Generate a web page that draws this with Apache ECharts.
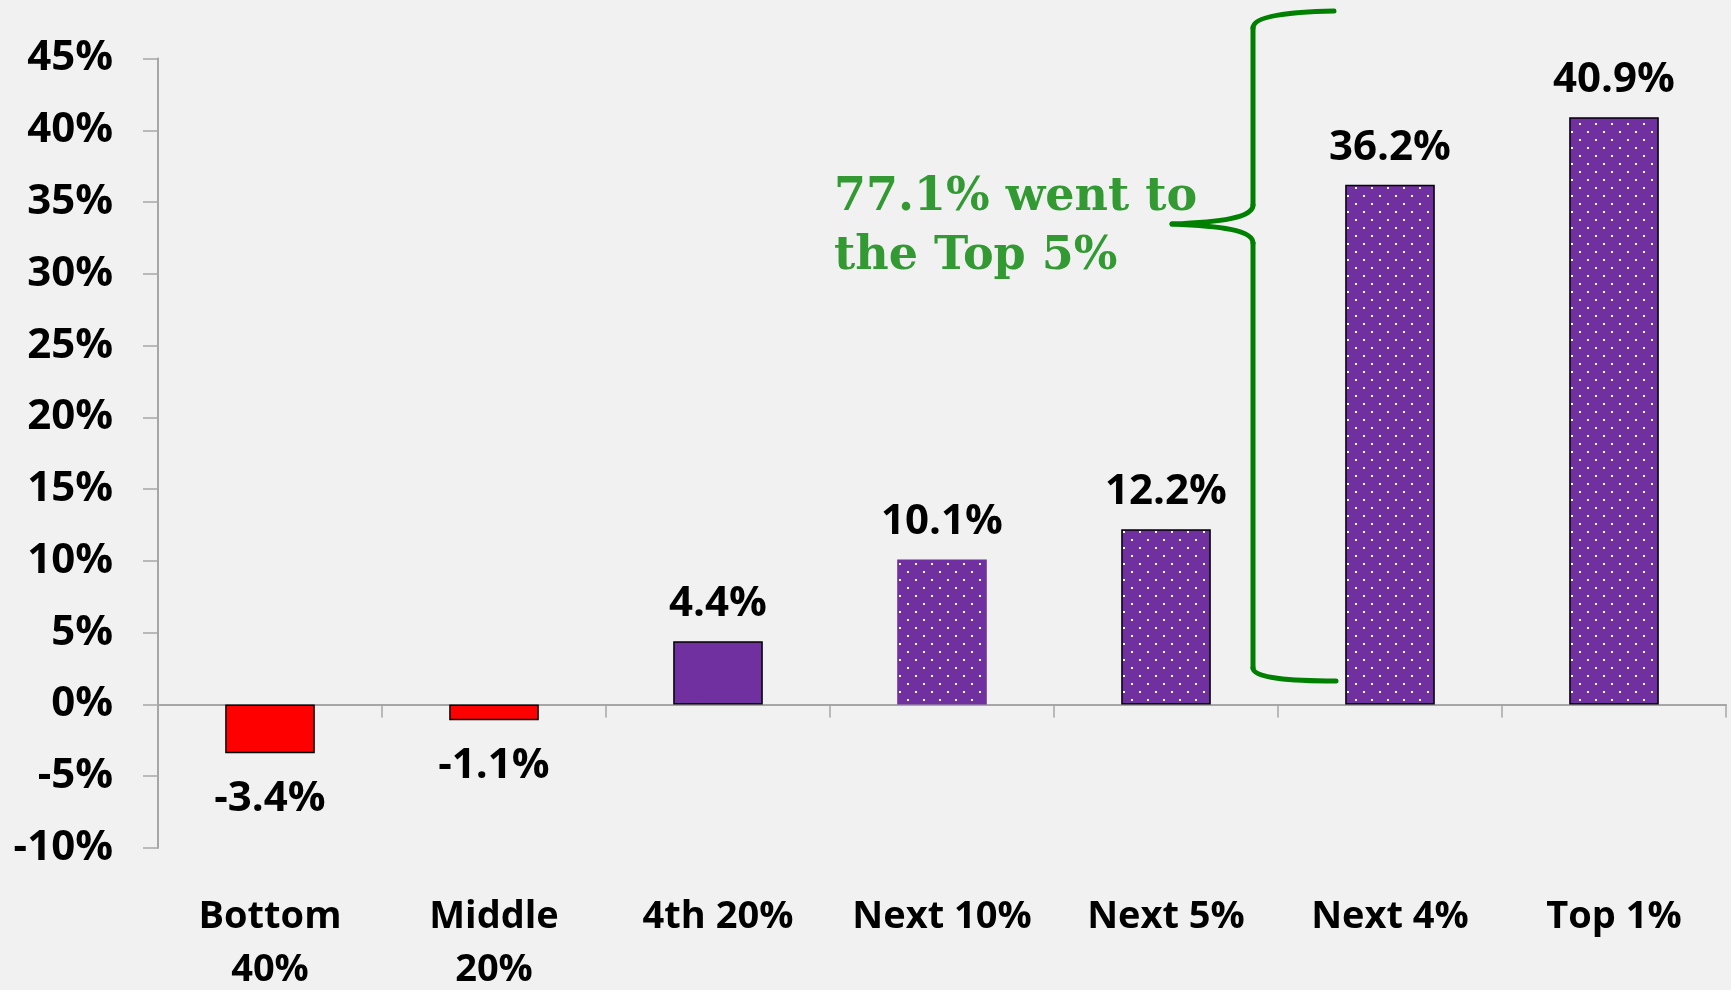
<!DOCTYPE html>
<html>
<head>
<meta charset="utf-8">
<script src="https://cdn.jsdelivr.net/npm/echarts@6/dist/echarts.min.js"></script>
<style>
  html, body { margin: 0; padding: 0; background: #f1f1f1; }
  #chart { width: 1731px; height: 990px; }
</style>
</head>
<body>
<div id="chart"></div>
<script>
const categories = ['Bottom\n40%', 'Middle\n20%', '4th 20%', 'Next 10%', 'Next 5%', 'Next 4%', 'Top 1%']
const values = [-3.4, -1.1, 4.4, 10.1, 12.2, 36.2, 40.9]
// 'red' | 'solid' | 'dots' | 'dotsNoBorder'
const barKinds = ['red', 'red', 'solid', 'dotsNoBorder', 'dots', 'dots', 'dots']
const yTicks = { min: -10, max: 45, step: 5 }
const noteText = '77.1% went to\nthe Top 5%'

const purple = '#7030a0'

// dotted fill used on the upper bars
const makeDots = () => {
  const c = document.createElement('canvas')
  c.width = 16
  c.height = 16
  const ctx = c.getContext('2d')
  ctx.fillStyle = purple
  ctx.fillRect(0, 0, 16, 16)
  ctx.fillStyle = '#ffffff'
  ctx.fillRect(3, 3, 2, 2)
  ctx.fillRect(11, 11, 2, 2)
  return c
}
const dots = makeDots()

const labelFont = { fontFamily: 'Open Sans', fontWeight: 'bold', fontSize: 38, color: '#000' }
const numberFont = { ...labelFont, fontSize: 42 }

const barData = values.map((v, i) => {
  const kind = barKinds[i]
  let color = purple
  if (kind === 'red') color = '#ff0000'
  if (kind === 'dots' || kind === 'dotsNoBorder') color = { image: dots, repeat: 'repeat' }
  return {
    value: v,
    itemStyle: {
      color,
      borderColor: '#000',
      borderWidth: kind === 'dotsNoBorder' ? 0 : 1.5
    },
    label: {
      position: v < 0 ? 'bottom' : 'top',
      distance: v < 0 ? 25 : 16
    }
  }
})

// brace pieces
const braceStyle = { stroke: '#008000', lineWidth: 5, lineCap: 'round' }
const curve = (x1, y1, cx1, cy1, cx2, cy2, x2, y2) => ({
  type: 'bezierCurve',
  shape: { x1, y1, cpx1: cx1, cpy1: cy1, cpx2: cx2, cpy2: cy2, x2, y2 },
  style: braceStyle
})
const seg = (x1, y1, x2, y2) => ({ type: 'line', shape: { x1, y1, x2, y2 }, style: braceStyle })

const chart = echarts.init(document.getElementById('chart'))

chart.setOption({
  backgroundColor: '#f1f1f1',
  animation: false,
  grid: { left: 158, right: 5, top: 58.5, bottom: 142, containLabel: false, outerBoundsMode: 'none' },
  xAxis: [
    {
      // zero line with the category ticks
      type: 'category',
      data: categories,
      axisLine: { onZero: true, lineStyle: { color: '#a6a6a6', width: 2 } },
      axisTick: { show: true, length: 13, lineStyle: { color: '#a6a6a6', width: 1.5 } },
      axisLabel: { show: false }
    },
    {
      // category names along the bottom
      type: 'category',
      data: categories,
      position: 'bottom',
      axisLine: { show: false, onZero: false },
      axisTick: { show: false },
      axisLabel: { ...labelFont, margin: 43, lineHeight: 53, interval: 0 }
    }
  ],
  yAxis: {
    type: 'value',
    min: yTicks.min,
    max: yTicks.max,
    interval: yTicks.step,
    splitLine: { show: false },
    axisLine: { show: true, lineStyle: { color: '#a6a6a6', width: 2 } },
    axisTick: { show: true, length: 15, lineStyle: { color: '#a6a6a6', width: 1.5 } },
    axisLabel: { ...numberFont, margin: 45, formatter: '{value}%' }
  },
  series: [{
    type: 'bar',
    xAxisIndex: 0,
    barWidth: '40%',
    data: barData,
    label: {
      show: true,
      ...numberFont,
      formatter: p => p.value.toFixed(1) + '%'
    }
  }],
  graphic: [
    curve(1334, 11, 1290, 12, 1253, 16, 1253, 28),
    seg(1253, 28, 1253, 205),
    curve(1253, 205, 1253, 218, 1220, 222, 1172, 224),
    curve(1172, 224, 1220, 226, 1253, 230, 1253, 243),
    seg(1253, 243, 1253, 668),
    curve(1253, 668, 1253, 678, 1290, 681, 1336, 681),
    {
      type: 'text',
      left: 834,
      top: 169,
      style: {
        text: noteText,
        fill: '#339933',
        font: 'bold 46px "DejaVu Serif"',
        lineHeight: 59
      }
    }
  ]
})
</script>
</body>
</html>
